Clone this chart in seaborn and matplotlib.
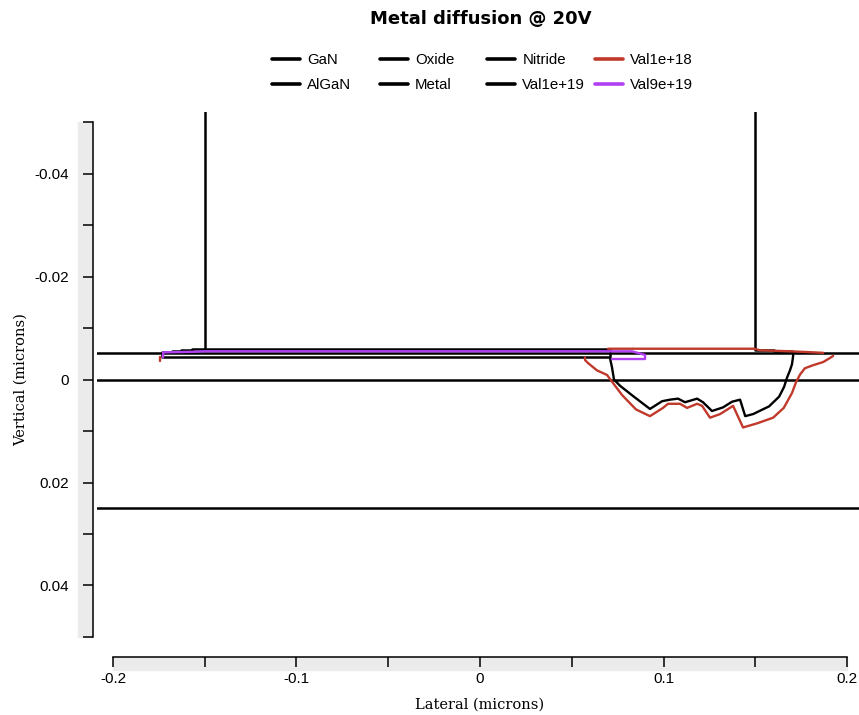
import pandas as pd
import seaborn as sns
import matplotlib.pyplot as plt
import matplotlib.transforms as mtransforms
from matplotlib.lines import Line2D
from matplotlib.patches import Rectangle

# material boundaries (microns)
gan_x = [-0.21, 0.21]
gan_y = [0.025, 0.025]
algan_x = [-0.21, 0.21]
algan_y = [0.0, 0.0]
oxide_x = [-0.21, 0.21]
oxide_y = [-0.0051, -0.0051]
metal_x = [-0.1733, -0.1733, 0.0708, 0.0708, -0.15]
metal_y = [-0.0051, -0.0043, -0.0043, -0.0060, -0.0060]
nitride_left_x = [-0.15, -0.15, -0.157, -0.157, -0.163, -0.163, -0.168, -0.168, -0.1735]
nitride_left_y = [-0.06, -0.0059, -0.0059, -0.0057, -0.0057, -0.0055, -0.0055, -0.0053, -0.0053]
nitride_right_x = [0.15, 0.15, 0.16, 0.16, 0.17, 0.17, 0.175]
nitride_right_y = [-0.06, -0.0058, -0.0058, -0.0056, -0.0056, -0.0054, -0.0054]

# concentration contours (microns)
v1e19_x = [0.0708, 0.0719, 0.0730, 0.0763, 0.0834, 0.0926, 0.0992, 0.1035, 0.1079, 0.1117,
           0.1183, 0.1215, 0.1264, 0.1324, 0.1373, 0.1417, 0.1445, 0.1488, 0.1575, 0.1630,
           0.1657, 0.1673, 0.1689, 0.1700, 0.1706, 0.1706]
v1e19_y = [-0.0042, -0.0024, 0.0000, 0.0012, 0.0032, 0.0057, 0.0042, 0.0039, 0.0037, 0.0044,
           0.0037, 0.0044, 0.0061, 0.0054, 0.0043, 0.0039, 0.0071, 0.0067, 0.0052, 0.0033,
           0.0014, -0.0004, -0.0018, -0.0030, -0.0046, -0.0052]
v1e18_tip_x = [-0.1744, -0.1744]
v1e18_tip_y = [-0.0037, -0.0043]
v1e18_x = [0.0572, 0.0572, 0.0589, 0.0637, 0.0692, 0.0719, 0.0774, 0.0850, 0.0926,
           0.0997, 0.1024, 0.1090, 0.1128, 0.1183, 0.1210, 0.1253, 0.1308, 0.1379,
           0.1433, 0.1510, 0.1597, 0.1655, 0.1700, 0.1722, 0.1744, 0.1770,
           0.1815, 0.1869, 0.1907, 0.1924]
v1e18_y = [-0.0043, -0.0038, -0.0032, -0.0018, -0.0009, 0.0004, 0.0030, 0.0058, 0.0071,
           0.0055, 0.0047, 0.0047, 0.0055, 0.0047, 0.0051, 0.0074, 0.0067, 0.0051,
           0.0093, 0.0085, 0.0074, 0.0055, 0.0026, 0.0005, -0.0010, -0.0022,
           -0.0028, -0.0034, -0.0042, -0.0046]
v1e18_top_x = [0.1870, 0.1815, 0.1689, 0.1526, 0.1493, 0.0697]
v1e18_top_y = [-0.0052, -0.0053, -0.0055, -0.0057, -0.0060, -0.0060]
v9e19_x = [-0.1727, -0.1727, -0.157, -0.15, 0.0828, 0.0899, 0.0899, 0.0719]
v9e19_y = [-0.0043, -0.0053, -0.0054, -0.0055, -0.0055, -0.0048, -0.0040, -0.0040]

legend_labels = ["GaN", "AlGaN", "Oxide", "Metal", "Nitride", "Val1e+19", "Val1e+18", "Val9e+19"]
colors = {"GaN": "black", "AlGaN": "black", "Oxide": "black", "Metal": "black",
          "Nitride": "black", "Val1e+19": "black", "Val1e+18": "#c0392b", "Val9e+19": "#b040f2"}

x_ticks = [-0.2, -0.1, 0, 0.1, 0.2]
x_ticklabels = ["-0.2", "-0.1", "0", "0.1", "0.2"]
x_minor = [-0.15, -0.05, 0.05, 0.15]
y_ticks = [-0.04, -0.02, 0, 0.02, 0.04]
y_ticklabels = ["-0.04", "-0.02", "0", "0.02", "0.04"]
y_minor = [-0.05, -0.03, -0.01, 0.01, 0.03, 0.05]

pieces = [
    ("GaN", "gan", gan_x, gan_y),
    ("AlGaN", "algan", algan_x, algan_y),
    ("Oxide", "oxide", oxide_x, oxide_y),
    ("Metal", "metal", metal_x, metal_y),
    ("Nitride", "nit_l", nitride_left_x, nitride_left_y),
    ("Nitride", "nit_r", nitride_right_x, nitride_right_y),
    ("Val1e+19", "c19", v1e19_x, v1e19_y),
    ("Val1e+18", "c18_tip", v1e18_tip_x, v1e18_tip_y),
    ("Val1e+18", "c18", v1e18_x, v1e18_y),
    ("Val1e+18", "c18_top", v1e18_top_x, v1e18_top_y),
    ("Val9e+19", "c9e19", v9e19_x, v9e19_y),
]
df = pd.concat([pd.DataFrame({"x": xs, "y": ys, "layer": lay, "part": part})
                for lay, part, xs, ys in pieces], ignore_index=True)

sns.set_theme(style="white")
plt.rcParams['font.family'] = ['Liberation Sans', 'DejaVu Sans']

W, H = 859, 715
fig = plt.figure(figsize=(W / 100, H / 100), dpi=100)
ax = fig.add_axes([97 / W, 75 / H, 762 / W, 528 / H])

mats = df[~df.layer.str.startswith("Val")]
cont = df[df.layer.str.startswith("Val")]
sns.lineplot(data=mats, x="x", y="y", hue="layer", units="part", estimator=None, sort=False,
             palette=colors, lw=1.8, legend=False, ax=ax, zorder=2)
sns.lineplot(data=cont, x="x", y="y", hue="layer", units="part", estimator=None, sort=False,
             palette=colors, lw=1.7, legend=False, ax=ax, zorder=3)

ax.set_xlim(-0.2087, 0.2065)
ax.set_ylim(0.0506, -0.0520)

for s in ["top", "right"]:
    ax.spines[s].set_visible(False)
ax.spines["left"].set_bounds(-0.05, 0.05)
ax.spines["left"].set_position(("outward", 2.9))
ax.spines["bottom"].set_bounds(-0.2, 0.2)
ax.spines["bottom"].set_position(("outward", 12.2))
for s in ["left", "bottom"]:
    ax.spines[s].set_color("black")
    ax.spines[s].set_linewidth(1.1)

ax.set_xticks(x_ticks)
ax.set_xticklabels(x_ticklabels)
ax.set_xticks(x_minor, minor=True)
ax.set_yticks(y_ticks)
ax.set_yticklabels(y_ticklabels)
ax.set_yticks(y_minor, minor=True)
ax.tick_params(which="both", direction="out", length=7, width=1.1, color="black",
               labelsize=11, labelcolor="black")
ax.tick_params(axis="y", which="both", left=True, pad=10.5)
ax.tick_params(axis="x", which="both", bottom=True, pad=3.5)

# light grey bands behind the axes
ty = mtransforms.blended_transform_factory(ax.transAxes, ax.transData)
ax.add_patch(Rectangle((-0.0249, -0.05), 0.0184, 0.1, transform=ty, color="#ebebeb",
                       clip_on=False, zorder=0))
tx = mtransforms.blended_transform_factory(ax.transData, ax.transAxes)
ax.add_patch(Rectangle((-0.2, -0.0568), 0.4, 0.0246, transform=tx, color="#ebebeb",
                       clip_on=False, zorder=0))

ax.set_xlabel("Lateral (microns)", family="DejaVu Serif", fontsize=10.5, color="black")
ax.set_ylabel("Vertical (microns)", family="DejaVu Serif", fontsize=10.5, color="black")
ax.xaxis.set_label_coords(0.5026, -0.11)
ax.yaxis.set_label_coords(-0.0906, 0.4924)

fig.text(481 / W, 1 - 19 / H, "Metal diffusion @ 20V", ha="center", va="center",
         fontweight="bold", fontsize=13, family="DejaVu Sans", color="black")

handles = [Line2D([], [], color=colors[l], lw=2.6) for l in legend_labels]
col_x = [272, 380, 487, 595]
for i, cx in enumerate(col_x):
    fig.legend(handles[2 * i:2 * i + 2], legend_labels[2 * i:2 * i + 2], loc="upper left",
               bbox_to_anchor=(cx / W, 1 - 53 / H), frameon=False, fontsize=10.8,
               borderpad=0, borderaxespad=0, handlelength=1.85, handletextpad=0.5,
               labelspacing=0.75, labelcolor="black")

fig.savefig("out.png", dpi=100)
